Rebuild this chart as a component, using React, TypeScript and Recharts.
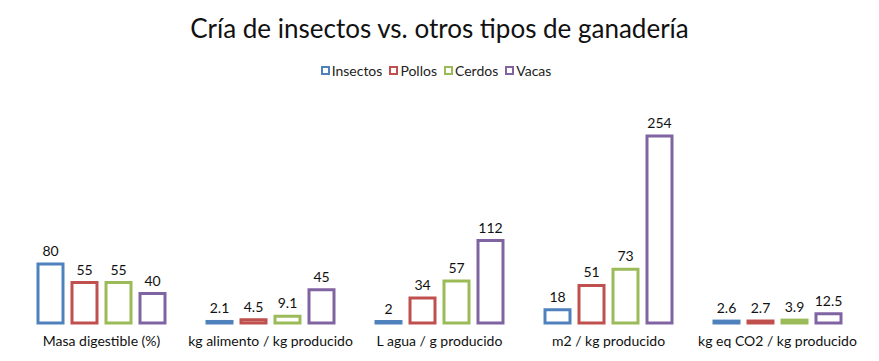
import React from "react";
import { BarChart, Bar, XAxis, YAxis, Legend, LabelList } from "recharts";

const categories = [
  "Masa digestible (%)",
  "kg alimento / kg producido",
  "L agua / g producido",
  "m2 / kg producido",
  "kg eq CO2 / kg producido",
];
const insectos = [80, 2.1, 2, 18, 2.6];
const pollos = [55, 4.5, 34, 51, 2.7];
const cerdos = [55, 9.1, 57, 73, 3.9];
const vacas = [40, 45, 112, 254, 12.5];

const series = [
  { key: "Insectos", color: "#4F81BD" },
  { key: "Pollos", color: "#C0504D" },
  { key: "Cerdos", color: "#9BBB59" },
  { key: "Vacas", color: "#8064A2" },
];

const data = categories.map((name, i) => ({
  name,
  Insectos: insectos[i],
  Pollos: pollos[i],
  Cerdos: cerdos[i],
  Vacas: vacas[i],
}));

const font = "Lato, 'Open Sans', sans-serif";

const LegendContent = () => (
  <div
    style={{
      display: "flex",
      justifyContent: "center",
      alignItems: "center",
      height: 20,
      fontFamily: font,
      fontSize: 14,
      color: "#222",
    }}
  >
    {series.map((s) => (
      <span
        key={s.key}
        style={{ display: "flex", alignItems: "center", marginRight: 7 }}
      >
        <span
          style={{
            display: "inline-block",
            width: 5,
            height: 5,
            border: `2px solid ${s.color}`,
            background: "#fff",
            marginRight: 2,
          }}
        />
        {s.key}
      </span>
    ))}
  </div>
);

export default function App() {
  return (
    <div
      style={{
        position: "absolute",
        left: 0,
        top: 0,
        width: 879,
        height: 361,
        background: "#fff",
      }}
    >
      <div
        style={{
          position: "absolute",
          top: 12,
          width: 879,
          textAlign: "center",
          fontFamily: font,
          fontSize: 26,
          color: "#111",
        }}
      >
        Cría de insectos vs. otros tipos de ganadería
      </div>
      <BarChart
        width={879}
        height={361}
        data={data}
        margin={{ top: 116, right: 17, left: 17, bottom: 8 }}
        barGap={9}
        barSize={25}
      >
        <XAxis
          dataKey="name"
          axisLine={false}
          tickLine={false}
          height={30}
          tickMargin={7}
          tick={{ fontFamily: font, fontSize: 14, fill: "#111" }}
          interval={0}
        />
        <YAxis hide domain={[0, 254]} />
        <Legend
          verticalAlign="top"
          height={20}
          content={<LegendContent />}
          wrapperStyle={{ top: 60 }}
        />
        {series.map((s) => (
          <Bar
            key={s.key}
            dataKey={s.key}
            fill="#fff"
            stroke={s.color}
            strokeWidth={3}
            isAnimationActive={false}
          >
            <LabelList
              dataKey={s.key}
              position="top"
              offset={8}
              style={{ fontFamily: font, fontSize: 14, fill: "#111" }}
            />
          </Bar>
        ))}
      </BarChart>
    </div>
  );
}
